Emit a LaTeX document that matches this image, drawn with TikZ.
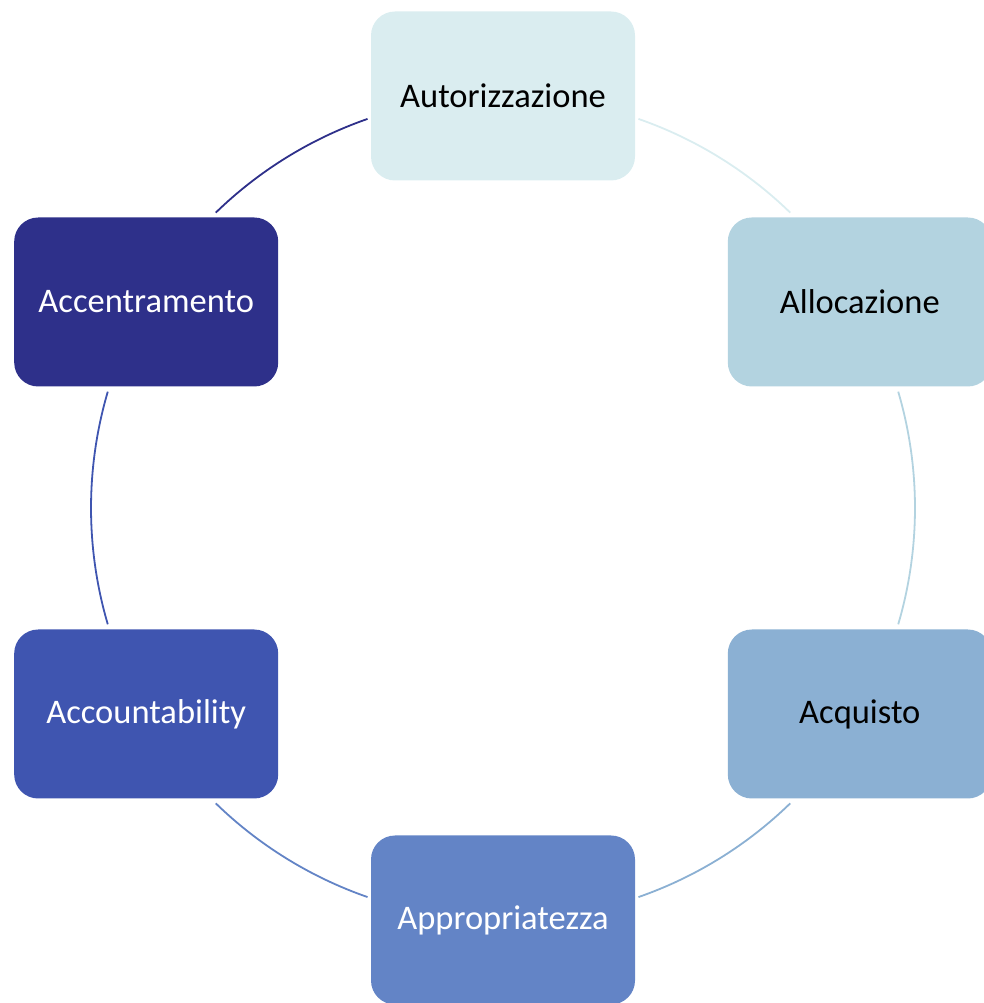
\documentclass[tikz,border=0pt]{standalone}
\usepackage{fontspec}
\setmainfont{Carlito}
\usetikzlibrary{calc}
\definecolor{cAut}{HTML}{DAEDF0}
\definecolor{cAll}{HTML}{B3D3E0}
\definecolor{cAcq}{HTML}{8BB0D3}
\definecolor{cApp}{HTML}{6384C6}
\definecolor{cAcc}{HTML}{3F55B0}
\definecolor{cCen}{HTML}{2E308A}
\begin{document}
\begin{tikzpicture}[x=1pt,y=1pt,
  stage/.style={rounded corners=24pt, minimum width=264pt, minimum height=169pt,
    inner sep=0pt, font=\fontsize{34.5}{41}\selectfont},
  link/.style={line width=1.8pt}]
\useasboundingbox (0,0) rectangle (984,1003);
\clip (0,0) rectangle (984,1003);
\coordinate (o) at (503,495);
% the six stages around the cycle
\node[stage, fill=cAut, text=black] (aut) at ($(o)+(90:412pt)$) {Autorizzazione};
\node[stage, fill=cAll, text=black] (all) at ($(o)+(30:412pt)$) {Allocazione};
\node[stage, fill=cAcq, text=black] (acq) at ($(o)+(-30:412pt)$) {Acquisto};
\node[stage, fill=cApp, text=white] (app) at ($(o)+(-90:412pt)$) {Appropriatezza};
\node[stage, fill=cAcc, text=white] (acc) at ($(o)+(-150:412pt)$) {Accountability};
\node[stage, fill=cCen, text=white] (cen) at ($(o)+(150:412pt)$) {Accentramento};
% arc ends on the ring
\coordinate (l1) at ($(o)+(70.8:412pt)$);
\coordinate (l2) at ($(o)+(16.4:412pt)$);
\coordinate (l3) at ($(o)+(-45.8:412pt)$);
\coordinate (l4) at ($(o)+(-109.2:412pt)$);
\coordinate (l5) at ($(o)+(-163.6:412pt)$);
\coordinate (l6) at ($(o)+(134.2:412pt)$);
% connecting arcs
\draw[link, draw=cAut] (l1) arc[start angle=70.8, end angle=45.8, radius=412pt];
\draw[link, draw=cAll] (l2) arc[start angle=16.4, end angle=-16.4, radius=412pt];
\draw[link, draw=cAcq] (l3) arc[start angle=-45.8, end angle=-70.8, radius=412pt];
\draw[link, draw=cApp] (l4) arc[start angle=-109.2, end angle=-134.2, radius=412pt];
\draw[link, draw=cAcc] (l5) arc[start angle=-163.6, end angle=-196.4, radius=412pt];
\draw[link, draw=cCen] (l6) arc[start angle=134.2, end angle=109.2, radius=412pt];
\end{tikzpicture}
\end{document}
